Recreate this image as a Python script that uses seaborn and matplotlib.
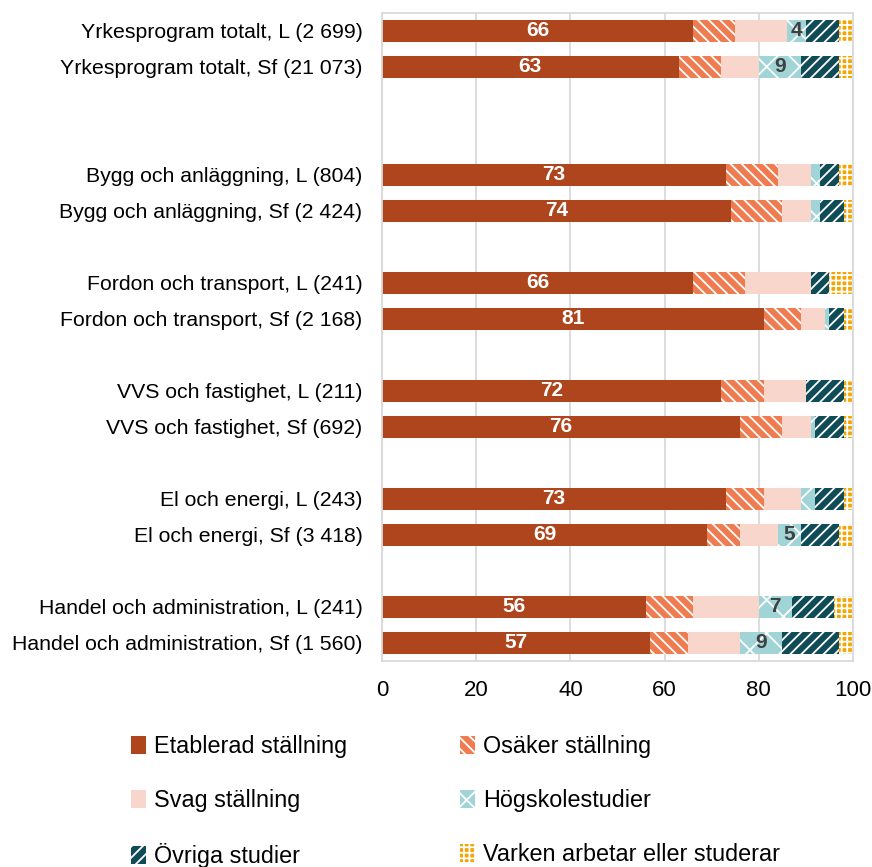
import numpy as np
import pandas as pd
import matplotlib.pyplot as plt
import seaborn as sns
from matplotlib.patches import Patch

# rows of the chart (top to bottom) and their slot on the y axis
labels = ['Yrkesprogram totalt, L (2 699)', 'Yrkesprogram totalt, Sf (21 073)',
          'Bygg och anläggning, L (804)', 'Bygg och anläggning, Sf (2 424)',
          'Fordon och transport, L (241)', 'Fordon och transport, Sf (2 168)',
          'VVS och fastighet, L (211)', 'VVS och fastighet, Sf (692)',
          'El och energi, L (243)', 'El och energi, Sf (3 418)',
          'Handel och administration, L (241)', 'Handel och administration, Sf (1 560)']
slots = [0, 1, 4, 5, 7, 8, 10, 11, 13, 14, 16, 17]

etablerad = [66, 63, 73, 74, 66, 81, 72, 76, 73, 69, 56, 57]
osaker = [9, 9, 11, 11, 11, 8, 9, 9, 8, 7, 10, 8]
svag = [11, 8, 7, 6, 14, 5, 9, 6, 8, 8, 14, 11]
hogskole = [4, 9, 2, 2, 0, 1, 0, 1, 3, 5, 7, 9]
ovriga = [7, 8, 4, 5, 4, 3, 8, 6, 6, 8, 9, 12]
varken = [3, 3, 3, 2, 5, 2, 2, 2, 2, 3, 4, 3]

series_names = ['Etablerad ställning', 'Osäker ställning', 'Svag ställning',
                'Högskolestudier', 'Övriga studier', 'Varken arbetar eller studerar']
series_vals = [etablerad, osaker, svag, hogskole, ovriga, varken]
colors = ['#AE451D', '#EF7B50', '#F8D6CB', '#A0D4D6', '#0F4C57', '#F5A400']
hatches = ['', '\\\\\\', '', 'x', '///', '+++']

sns.set_style('white')
plt.rcParams['font.family'] = ['Liberation Sans', 'DejaVu Sans']
plt.rcParams['hatch.linewidth'] = 1.3

grey = '#D9D9D9'
fig = plt.figure(figsize=(8.72, 8.67), dpi=100)
ax = fig.add_axes([382 / 872, 1 - 661 / 867, (853 - 382) / 872, (661 - 13) / 867])

df = pd.DataFrame(dict(zip(series_names, series_vals)))
df['slot'] = slots
cum = df[series_names].cumsum(axis=1)

# stacked bars: draw cumulative totals from the back to the front
for i in range(len(series_names) - 1, -1, -1):
    n0 = len(ax.patches)
    sns.barplot(x=cum[series_names[i]], y=df['slot'], orient='h', native_scale=True,
                color=colors[i], saturation=1, width=0.6, ax=ax)
    for p in ax.patches[n0:]:
        p.set_hatch(hatches[i])
        p.set_edgecolor('white')
        p.set_linewidth(0)

# value labels
for k in range(len(slots)):
    ax.text(etablerad[k] / 2, slots[k], str(etablerad[k]), ha='center', va='center',
            color='white', fontsize=15, fontweight='bold')
    if hogskole[k] >= 4:
        xc = cum.loc[k, 'Svag ställning'] + hogskole[k] / 2
        ax.text(xc, slots[k], str(hogskole[k]), ha='center', va='center',
                color='#404040', fontsize=15, fontweight='bold')

ax.set_xlim(0, 100)
ax.set_ylim(17.5, -0.5)
ax.set_xticks(range(0, 101, 20))
ax.set_yticks(slots)
ax.set_yticklabels(labels)
ax.set_xlabel('')
ax.set_ylabel('')
ax.tick_params(axis='y', length=0, pad=14, labelsize=15.3, labelcolor='black')
ax.tick_params(axis='x', length=6, color=grey, width=1.3, pad=8, labelsize=16,
               labelcolor='black')
ax.grid(axis='x', color=grey, linewidth=1.3)
ax.set_axisbelow(True)
for s in ax.spines.values():
    s.set_color(grey)
    s.set_linewidth(1.3)

# legend, two columns filled row by row
order = [0, 2, 4, 1, 3, 5]
handles = [Patch(facecolor=colors[i], hatch=hatches[i], edgecolor='white', linewidth=0,
                 label=series_names[i]) for i in order]
leg = fig.legend(handles=handles, ncol=2, loc='upper left', bbox_to_anchor=(131 / 872, 1 - 735 / 867),
                 frameon=False, fontsize=16.8, handlelength=0.64, handleheight=0.77,
                 handletextpad=0.34, labelspacing=1.33, columnspacing=4.85, borderpad=0,
                 borderaxespad=0)
for t in leg.get_texts():
    t.set_color('black')

fig.savefig('out.png', dpi=100)
